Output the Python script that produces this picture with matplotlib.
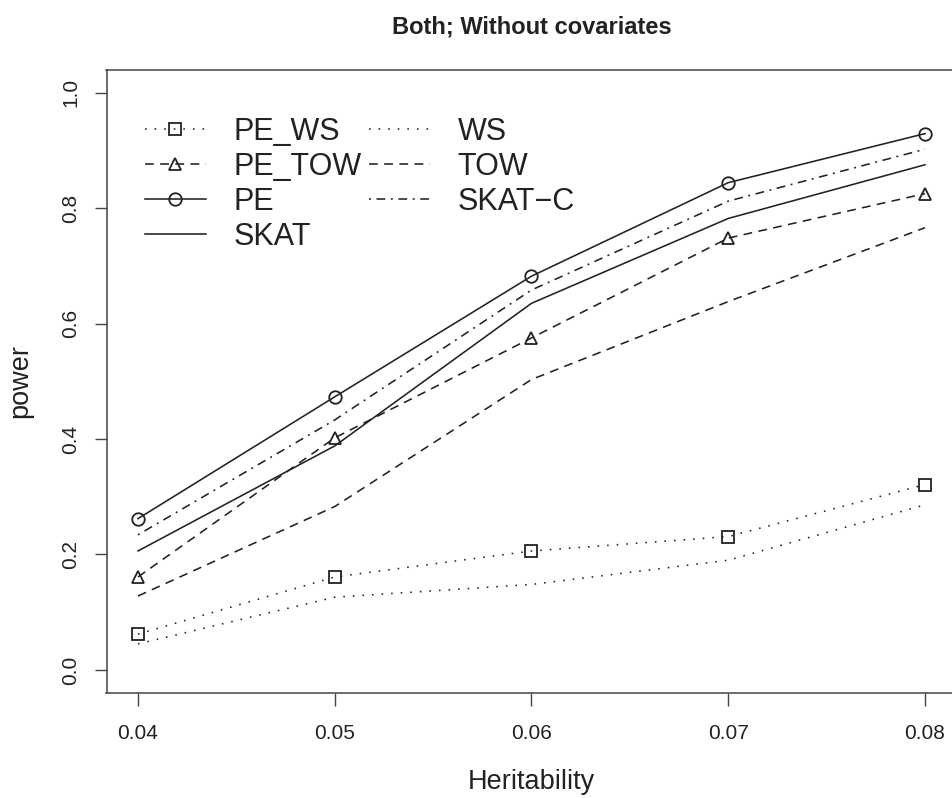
import matplotlib
matplotlib.use("Agg")
import matplotlib.pyplot as plt

plt.rcParams['font.family'] = ['Liberation Sans', 'DejaVu Sans']

heritability = [0.04, 0.05, 0.06, 0.07, 0.08]
pe_ws = [0.062, 0.161, 0.206, 0.231, 0.321]
ws = [0.045, 0.126, 0.148, 0.190, 0.286]
pe_tow = [0.161, 0.402, 0.575, 0.748, 0.825]
tow = [0.128, 0.283, 0.503, 0.638, 0.766]
pe = [0.262, 0.473, 0.682, 0.844, 0.929]
skat = [0.206, 0.388, 0.635, 0.782, 0.875]
skat_c = [0.234, 0.433, 0.658, 0.812, 0.902]

xticks = [0.04, 0.05, 0.06, 0.07, 0.08]
xtick_labels = ["0.04", "0.05", "0.06", "0.07", "0.08"]
yticks = [0.0, 0.2, 0.4, 0.6, 0.8, 1.0]
ytick_labels = ["0.0", "0.2", "0.4", "0.6", "0.8", "1.0"]

col = '#222222'
lw = 1.15
dotted = (0, (1.0, 5.0))
dashed = (0, (5.5, 4.0))
dashdot = (0, (1.2, 3.5, 5.5, 3.5))

fig = plt.figure(figsize=(9.52, 7.98), dpi=100)
ax = fig.add_axes([106.5 / 952, 105 / 798, 850 / 952, 623.5 / 798])

mk = dict(markerfacecolor='none', markeredgecolor=col, markeredgewidth=1.3, markersize=9)
l1, = ax.plot(heritability, pe_ws, color=col, lw=lw, ls=dotted, marker='s', **mk)
l2, = ax.plot(heritability, pe_tow, color=col, lw=lw, ls=dashed, marker='^', **mk)
l3, = ax.plot(heritability, pe, color=col, lw=lw, ls='-', marker='o', **mk)
l4, = ax.plot(heritability, skat, color=col, lw=lw, ls='-')
l5, = ax.plot(heritability, ws, color=col, lw=lw, ls=dotted)
l6, = ax.plot(heritability, tow, color=col, lw=lw, ls=dashed)
l7, = ax.plot(heritability, skat_c, color=col, lw=lw, ls=dashdot)

ax.set_xlim(0.0384, 0.0816)
ax.set_ylim(-0.04, 1.04)
ax.set_xticks(xticks)
ax.set_xticklabels(xtick_labels)
ax.set_yticks(yticks)
ax.set_yticklabels(ytick_labels, rotation=90, va='center')
ax.tick_params(direction='out', length=9, width=1.0, colors='#444444', labelsize=15,
               labelcolor='#222222')
ax.tick_params(axis='x', pad=13)
ax.tick_params(axis='y', pad=10)
for s in ax.spines.values():
    s.set_color('#444444')
    s.set_linewidth(1.1)

ax.set_xlabel("Heritability", fontsize=19.5, color='#222222', labelpad=19)
ax.set_ylabel("power", fontsize=19.5, color='#222222', labelpad=20)
ax.set_title("Both; Without covariates", fontsize=17, fontweight='bold', color='#222222', pad=26)

leg = ax.legend([l1, l2, l3, l4, l5, l6, l7],
                ["PE_WS", "PE_TOW", "PE", "SKAT", "WS", "TOW", "SKAT\u2212C"],
                ncol=2, frameon=False, fontsize=22, loc='upper left',
                bbox_to_anchor=(38 / 850, 1 - (116.5 - 69.5) / 623.5),
                handlelength=2.0, handletextpad=0.9, columnspacing=0.25,
                labelspacing=0.17, borderaxespad=0, borderpad=0)
for t in leg.get_texts():
    t.set_color('#222222')

fig.savefig("out.png", dpi=100)
